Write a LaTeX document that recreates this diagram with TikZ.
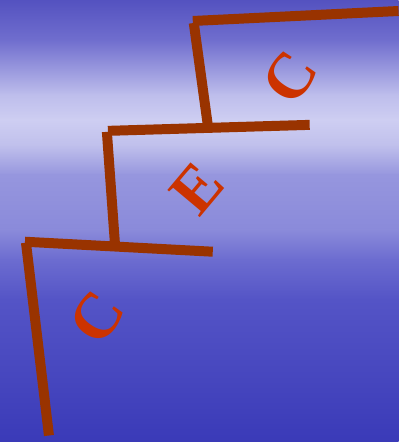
\documentclass[tikz,border=0pt]{standalone}
\usepackage{fontspec}
\setmainfont{Liberation Serif}
\definecolor{rust}{RGB}{153,51,0}
\definecolor{letterred}{RGB}{204,51,0}
\definecolor{sky0}{RGB}{84,82,192}
\definecolor{sky1}{RGB}{112,110,206}
\definecolor{sky2}{RGB}{190,190,236}
\definecolor{sky3}{RGB}{206,206,242}
\definecolor{sky4}{RGB}{192,192,236}
\definecolor{sky5}{RGB}{150,150,222}
\definecolor{sky6}{RGB}{138,138,218}
\definecolor{sky7}{RGB}{108,108,208}
\definecolor{sky8}{RGB}{84,84,198}
\definecolor{sky9}{RGB}{70,70,190}
\definecolor{sky10}{RGB}{58,58,184}
\tikzset{
  beam/.style={draw=rust, line width=2.5mm},
  letter/.style={text=letterred, font=\fontsize{46}{46}\selectfont\bfseries, inner sep=0pt, rotate=50}
}
\begin{document}
\begin{tikzpicture}[x=0.25mm, y=-0.25mm]
    % sky
    \foreach \ya/\yb/\ca/\cb in {0/40/sky0/sky1, 40/95/sky1/sky2, 95/120/sky2/sky3,
        120/145/sky3/sky4, 145/175/sky4/sky5, 175/230/sky5/sky6, 230/260/sky6/sky7,
        260/300/sky7/sky8, 300/380/sky8/sky9, 380/442/sky9/sky10}
      \shade[top color=\ca, bottom color=\cb] (0,\ya) rectangle (399,\yb+0.5);
    \useasboundingbox (0,0) rectangle (399,442);
    % steps
    \draw[beam] (193,21) -- (399,11);
    \draw[beam] (194,23) -- (208,125);
    \draw[beam] (108,131) -- (310,125);
    \draw[beam] (107,132) -- (115,243);
    \draw[beam] (25,242) -- (213,252);
    \draw[beam] (26,243) -- (49,436);
    % letters
    \node[letter, rotate=6] (c1) at (290,77) {C};
    \node[letter] (e) at (197,189) {E};
    \node[letter, rotate=6] (c2) at (97,318) {C};
\end{tikzpicture}
\end{document}
